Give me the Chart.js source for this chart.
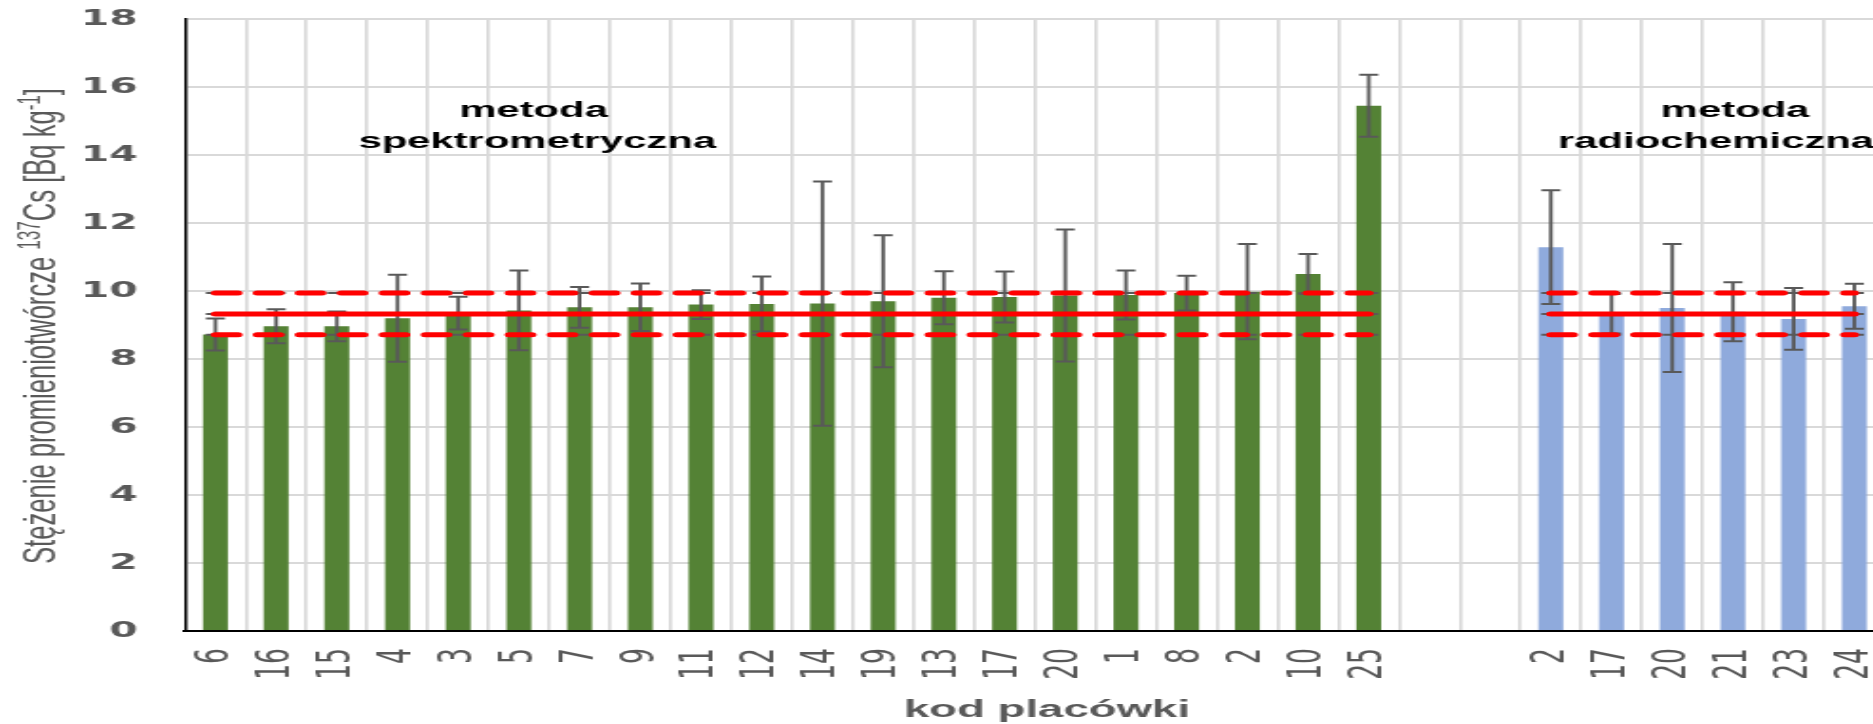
<!DOCTYPE html>
<html lang="pl">
<head>
<meta charset="utf-8">
<title>Stężenie promieniotwórcze 137Cs</title>
<script src="https://cdn.jsdelivr.net/npm/chart.js"></script>
<style>
  html, body { margin: 0; padding: 0; background: #ffffff; overflow: hidden; width: 1873px; height: 724px; }
  #wrap { width: 1873px; height: 724px; overflow: hidden; position: relative; }
  /* The chart is laid out on a narrow canvas and widened horizontally */
  #chart { display: block; position: absolute; left: 0; top: 0; }
</style>
</head>
<body>
<div id="wrap"><canvas id="chart"></canvas></div>
<script>
// Laboratory codes, spectrometric method (green) and radiochemical method (blue)
const spectroCodes = ['6', '16', '15', '4', '3', '5', '7', '9', '11', '12', '14', '19', '13', '17', '20', '1', '8', '2', '10', '25'];
const radioCodes = ['2', '17', '20', '21', '23', '24'];
const gapSlots = ['', ''];

// 137Cs activity concentration [Bq/kg] and expanded uncertainty
const spectroValues = [8.72, 8.96, 8.96, 9.20, 9.35, 9.43, 9.52, 9.52, 9.60, 9.62, 9.63, 9.70, 9.80, 9.82, 9.87, 9.88, 9.94, 9.98, 10.50, 15.45];
const spectroErrors = [0.47, 0.50, 0.44, 1.28, 0.48, 1.17, 0.60, 0.70, 0.42, 0.81, 3.59, 1.94, 0.78, 0.75, 1.94, 0.72, 0.51, 1.40, 0.59, 0.91];
const radioValues = [11.29, 9.33, 9.50, 9.39, 9.18, 9.55];
const radioErrors = [1.67, 0.58, 1.88, 0.87, 0.91, 0.66];

// Reference value and its acceptance band
const refValue = 9.32;
const refUpper = 9.94;
const refLower = 8.71;

// Y axis ticks
const yTickMin = 0;
const yTickMax = 18;
const yTickStep = 2;

// Free-text labels
const groupLabels = [
  { lines: ['metoda', 'spektrometryczna'], centers: [280.8, 282.8] },
  { lines: ['metoda', 'radiochemiczna'], centers: [913.2, 903.2] }
];
const xTitle = 'kod placówki';
const yTitleParts = [
  { t: 'Stężenie promieniotwórcze ', sup: false },
  { t: '137', sup: true },
  { t: 'Cs [Bq kg', sup: false },
  { t: '-1', sup: true },
  { t: ']', sup: false }
];

// ---- build the series on the shared category axis ----
const categories = [...spectroCodes, ...gapSlots, ...radioCodes];
const nSpec = spectroCodes.length;
const radioStart = nSpec + gapSlots.length;
const nulls = n => Array(n).fill(null);

const greenData = [...spectroValues, ...nulls(categories.length - nSpec)];
const greenErr = [...spectroErrors, ...nulls(categories.length - nSpec)];
const blueData = [...nulls(radioStart), ...radioValues];
const blueErr = [...nulls(radioStart), ...radioErrors];
const levelLine = v => categories.map((c, i) => (i < nSpec || i >= radioStart) ? v : null);

// horizontal stretch applied to the canvas
const STRETCH = 1.9;
const CANVAS_W = 999;
const CANVAS_H = 724;

const canvas = document.getElementById('chart');
canvas.width = CANVAS_W;
canvas.height = CANVAS_H;
canvas.style.width = (CANVAS_W * STRETCH) + 'px';
canvas.style.height = CANVAS_H + 'px';

const GREY = '#595959';

const errorBars = {
  id: 'errorBars',
  afterDatasetDraw(chart, args) {
    const ds = chart.data.datasets[args.index];
    if (!ds.errors) return;
    const ctx = chart.ctx;
    const ys = chart.scales.y;
    ctx.save();
    ctx.strokeStyle = GREY;
    args.meta.data.forEach((el, i) => {
      const v = ds.data[i];
      const e = ds.errors[i];
      if (v == null || e == null) return;
      const x = el.x;
      const yt = ys.getPixelForValue(v + e);
      const yb = ys.getPixelForValue(v - e);
      ctx.lineWidth = 1.9;
      ctx.beginPath();
      ctx.moveTo(x, yt);
      ctx.lineTo(x, yb);
      ctx.stroke();
      ctx.lineWidth = 2;
      ctx.beginPath();
      ctx.moveTo(x - 5, yt); ctx.lineTo(x + 5, yt);
      ctx.moveTo(x - 5, yb); ctx.lineTo(x + 5, yb);
      ctx.stroke();
    });
    ctx.restore();
  }
};

const textLayer = {
  id: 'textLayer',
  afterDraw(chart) {
    const ctx = chart.ctx;
    ctx.save();
    // group captions
    ctx.fillStyle = '#000000';
    ctx.font = "bold 22px 'Liberation Sans', Arial, sans-serif";
    ctx.textAlign = 'center';
    ctx.textBaseline = 'alphabetic';
    groupLabels.forEach(g => {
      ctx.fillText(g.lines[0], g.centers[0], 117);
      ctx.fillText(g.lines[1], g.centers[1], 148);
    });
    // x axis title
    ctx.fillStyle = GREY;
    ctx.font = "bold 24px 'Liberation Sans', Arial, sans-serif";
    ctx.fillText(xTitle, 551, 717);
    // y axis title with superscripts
    const F = 24;
    const mainFont = F + "px 'Liberation Sans', Arial, sans-serif";
    const supFont = Math.round(F * 0.65) + "px 'Liberation Sans', Arial, sans-serif";
    let total = 0;
    yTitleParts.forEach(p => {
      ctx.font = p.sup ? supFont : mainFont;
      p.w = ctx.measureText(p.t).width;
      total += p.w;
    });
    ctx.translate(29, 326);
    ctx.rotate(-Math.PI / 2);
    ctx.scale(1.066, 1);
    ctx.textAlign = 'left';
    let x = -total / 2;
    yTitleParts.forEach(p => {
      ctx.font = p.sup ? supFont : mainFont;
      ctx.fillText(p.t, x, p.sup ? -F * 0.33 : 0);
      x += p.w;
    });
    ctx.restore();
  }
};

const barCommon = {
  type: 'bar',
  grouped: false,
  barPercentage: 0.41,
  categoryPercentage: 1.0,
  borderWidth: 0,
  order: 2
};

const markerCommon = {
  type: 'line',
  showLine: false,
  pointStyle: 'line',
  pointRadius: 5,
  pointBorderColor: GREY,
  pointBorderWidth: 2,
  pointBackgroundColor: GREY,
  order: 1
};

const redCommon = {
  type: 'line',
  borderColor: '#ff0000',
  borderWidth: 5,
  borderCapStyle: 'round',
  pointRadius: 0,
  spanGaps: false,
  fill: false,
  tension: 0,
  order: 0
};

new Chart(canvas, {
  data: {
    labels: categories,
    datasets: [
      { ...barCommon, label: 'metoda spektrometryczna', data: greenData, errors: greenErr, backgroundColor: '#548235' },
      { ...barCommon, label: 'metoda radiochemiczna', data: blueData, errors: blueErr, backgroundColor: '#8faadc' },
      { ...markerCommon, label: 'm1', data: levelLine(refUpper) },
      { ...markerCommon, label: 'm2', data: levelLine(refValue) },
      { ...markerCommon, label: 'm3', data: levelLine(refLower) },
      { ...redCommon, label: 'górna granica', data: levelLine(refUpper), borderDash: [11.8, 10.3] },
      { ...redCommon, label: 'wartość odniesienia', data: levelLine(refValue) },
      { ...redCommon, label: 'dolna granica', data: levelLine(refLower), borderDash: [11.8, 10.3] }
    ]
  },
  options: {
    responsive: false,
    animation: false,
    devicePixelRatio: 1,
    layout: { padding: { top: 19, left: 0, right: 0, bottom: 0 } },
    plugins: {
      legend: { display: false },
      tooltip: { enabled: false },
      title: { display: false }
    },
    scales: {
      x: {
        type: 'category',
        offset: true,
        grid: { display: true, offset: true, color: '#d9d9d9', lineWidth: 1.7, drawTicks: false },
        border: { display: true, color: '#000000', width: 2 },
        ticks: {
          autoSkip: false,
          minRotation: 90,
          maxRotation: 90,
          padding: 17,
          color: GREY,
          font: { family: "'DejaVu Sans', sans-serif", size: 25 }
        },
        afterFit(scale) {
          scale.height = 93;
          scale.paddingLeft = 0;
          scale.paddingRight = 0;
        }
      },
      y: {
        min: yTickMin,
        max: yTickMax,
        grid: { color: '#d9d9d9', lineWidth: 2, drawTicks: false },
        border: { display: true, color: '#000000', width: 1.5 },
        ticks: {
          stepSize: yTickStep,
          padding: 25,
          color: GREY,
          font: { family: "'DejaVu Sans', sans-serif", size: 21.5, weight: 'bold' }
        },
        afterFit(scale) {
          scale.width = 97.4;
          scale.paddingTop = 0;
          scale.paddingBottom = 0;
        }
      }
    }
  },
  plugins: [errorBars, textLayer]
});
</script>
</body>
</html>
